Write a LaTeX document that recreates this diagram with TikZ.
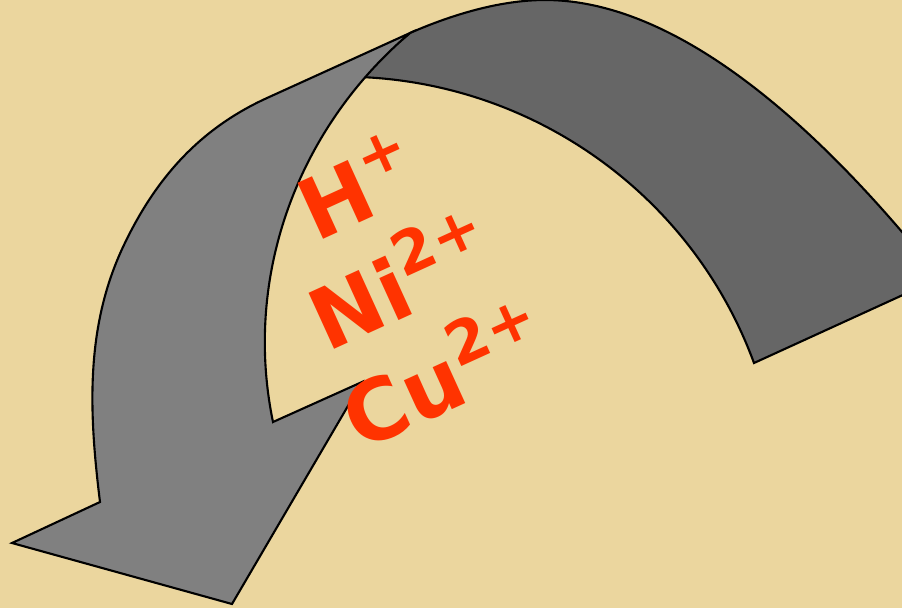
\documentclass[tikz,border=0pt]{standalone}
\usepackage{fontspec}
\newfontfamily\ionfont{DejaVu Sans}
\definecolor{Paper}{HTML}{EBD69E}
\definecolor{Slate}{HTML}{808080}
\definecolor{Graphite}{HTML}{666666}
\definecolor{Flame}{HTML}{FF3300}
\newcommand\ionsup[1]{\raisebox{0.42em}{\fontsize{17}{17}\selectfont #1}}

\begin{document}
\begin{tikzpicture}[x=0.01cm, y=-0.01cm,
  backarm/.style={fill=Graphite, draw=black, line width=0.6pt},
  frontarm/.style={fill=Slate, draw=black, line width=0.6pt}]
\useasboundingbox (0,0) rectangle (902,608);
\clip (0,0) rectangle (902,608);
\fill[Paper] (0,0) rectangle (902,608);
% back half of the bent arrow
\draw[backarm] (360,77) .. controls (537,84) and (693,197) .. (754,363) -- (940,278)
  .. controls (847,161) and (695,0) .. (545,0) .. controls (500,0) and (451,15) .. (410,33)
  .. controls (393,47) and (374,60) .. (360,77) -- cycle;
% front half with the head
\draw[frontarm] (410,33) .. controls (297,129) and (243,277) .. (273,422) -- (362,382) -- (232,604) -- (12,543) -- (100,502)
  .. controls (89,413) and (85,328) .. (123,247) .. controls (155,179) and (199,129) .. (267,98) -- cycle;
\node[rotate=24.5, align=center, text=Flame, font=\ionfont\bfseries\fontsize{24}{29.6}\selectfont] (ions) at (400,280) {H\ionsup{+}\\Ni\ionsup{2+}\\Cu\ionsup{2+}};
\end{tikzpicture}
\end{document}
